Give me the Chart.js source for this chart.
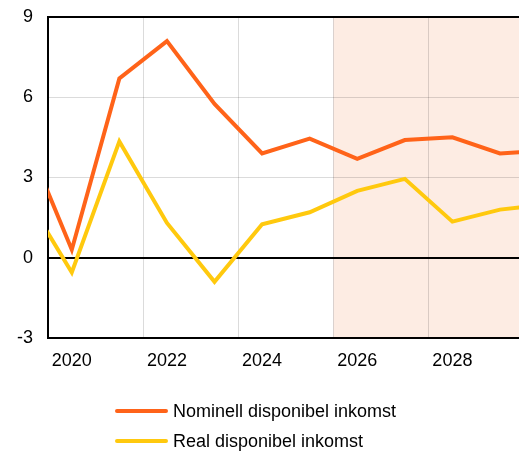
<!DOCTYPE html>
<html>
<head>
<meta charset="utf-8">
<script src="https://cdn.jsdelivr.net/npm/chart.js@4/dist/chart.umd.min.js"></script>
<style>
  html, body { margin: 0; padding: 0; background: #fff; }
  #wrap { position: relative; width: 519px; height: 452px; }
  #legend { position: absolute; left: 115px; top: 401px; font: 18px "Liberation Sans", Arial, sans-serif; color: #000; }
  .item { display: flex; align-items: center; height: 20px; margin-bottom: 10px; }
  .swatch { width: 53px; height: 4px; border-radius: 2px; margin-right: 5px; }
</style>
</head>
<body>
<div id="wrap">
  <canvas id="chart" width="519" height="452"></canvas>
  <div id="legend"></div>
</div>
<script>
  // årsvärden, procentuell förändring
  const years = [2019, 2020, 2021, 2022, 2023, 2024, 2025, 2026, 2027, 2028, 2029, 2030];
  const nominell = [4.6, 0.3, 6.7, 8.1, 5.75, 3.9, 4.45, 3.7, 4.4, 4.5, 3.9, 4.0];
  const real = [2.4, -0.55, 4.35, 1.3, -0.9, 1.25, 1.7, 2.5, 2.95, 1.35, 1.8, 2.0];
  const seriesNames = ["Nominell disponibel inkomst", "Real disponibel inkomst"];
  const seriesColors = ["#ff6319", "#ffc90e"];
  const xTicks = [2020, 2021.5, 2022, 2023.5, 2024, 2025.5, 2026, 2027.5, 2028];
  const yTicks = [-3, 0, 3, 6, 9];
  const prognosStart = 2025.5;

  const FONT = { family: "'Liberation Sans', Arial, sans-serif", size: 18 };

  function toPoints(vals) {
    return vals.map((v, i) => ({ x: years[i], y: v }));
  }

  // ljus bakgrund för prognosperioden
  const prognosPlugin = {
    id: "prognos",
    beforeDraw(chart) {
      const { ctx, chartArea, scales } = chart;
      const x0 = scales.x.getPixelForValue(prognosStart);
      ctx.save();
      ctx.fillStyle = "#fdece3";
      ctx.fillRect(x0, chartArea.top, chartArea.right - x0, chartArea.bottom - chartArea.top);
      ctx.restore();
    },
  };

  const chart = new Chart(document.getElementById("chart"), {
    type: "line",
    data: {
      datasets: [
        { label: seriesNames[0], data: toPoints(nominell), borderColor: seriesColors[0], backgroundColor: seriesColors[0] },
        { label: seriesNames[1], data: toPoints(real), borderColor: seriesColors[1], backgroundColor: seriesColors[1] },
      ],
    },
    options: {
      responsive: false,
      animation: false,
      layout: { padding: { top: 17, right: 0, left: 0, bottom: 0 } },
      elements: {
        line: { borderWidth: 4, tension: 0, borderJoinStyle: "miter", borderCapStyle: "butt" },
        point: { radius: 0 },
      },
      plugins: { legend: { display: false }, tooltip: { enabled: false } },
      scales: {
        x: {
          type: "linear",
          min: 2019.5,
          max: 2029.4,
          afterBuildTicks(scale) {
            scale.ticks = xTicks.map((v) => ({ value: v }));
          },
          afterFit(scale) {
            scale.height = 114;
            scale.paddingLeft = 0;
            scale.paddingRight = 0;
          },
          ticks: {
            autoSkip: false,
            maxRotation: 0,
            padding: 12,
            color: "#000",
            font: FONT,
            callback: (v) => (Number.isInteger(v) ? String(v) : ""),
          },
          grid: {
            drawTicks: false,
            lineWidth: 1,
            color: (c) => (c.tick && Number.isInteger(c.tick.value) ? "rgba(0,0,0,0)" : "rgba(0,0,0,0.14)"),
          },
          border: { display: true, color: "#000", width: 2 },
        },
        y: {
          min: -3,
          max: 9,
          afterBuildTicks(scale) {
            scale.ticks = yTicks.map((v) => ({ value: v }));
          },
          afterFit(scale) {
            scale.width = 48;
            scale.paddingTop = 0;
            scale.paddingBottom = 0;
          },
          ticks: { padding: 15, color: "#000", font: FONT },
          grid: {
            drawTicks: false,
            color: (c) => (c.tick && (c.tick.value === 0 || c.tick.value === 9 || c.tick.value === -3) ? "#000" : "rgba(0,0,0,0.14)"),
            lineWidth: (c) => (c.tick && (c.tick.value === 0 || c.tick.value === 9) ? 2 : 1),
          },
          border: { display: true, color: "#000", width: 2 },
        },
      },
    },
    plugins: [prognosPlugin],
  });

  // förklaring under diagrammet
  const legend = document.getElementById("legend");
  legend.innerHTML = chart.data.datasets
    .map(
      (ds) => `
      <div class="item">
        <span class="swatch" style="background:${ds.borderColor}"></span>
        <span>${ds.label}</span>
      </div>`
    )
    .join("");
</script>
</body>
</html>
